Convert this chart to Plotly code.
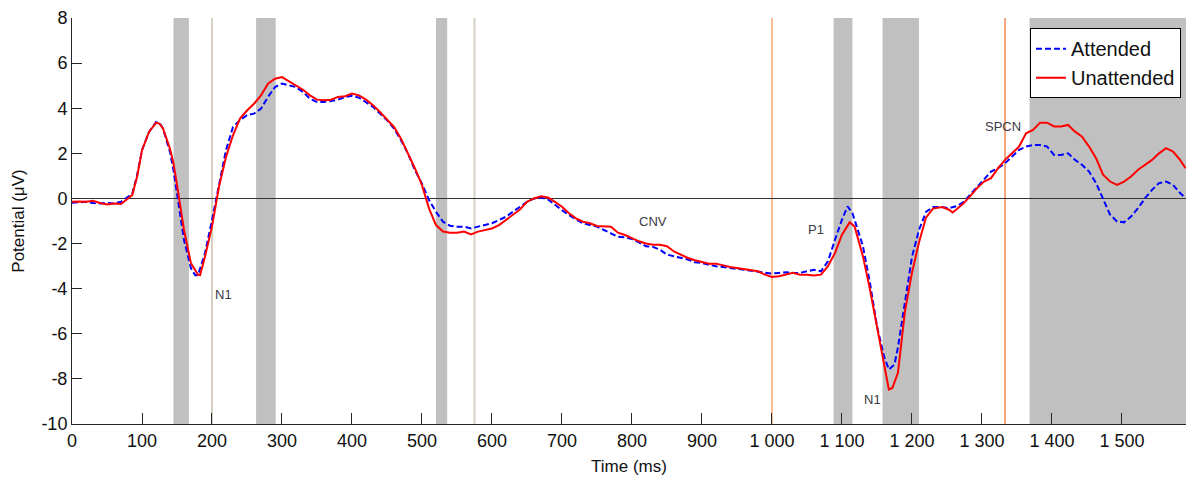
import plotly.graph_objects as go

# ---------------- data ----------------
t_attended = [0, 10, 20, 30, 40, 50, 60, 70, 80, 86, 93, 100, 110, 120, 125, 130, 140, 145, 150, 160,
              170, 176, 180, 190, 200, 210, 220, 230, 240, 250, 260, 270, 280, 290, 300, 310, 320, 330,
              340, 350, 360, 370, 380, 390, 400, 410, 420, 430, 440, 450, 460, 470, 480, 490, 500, 510,
              520, 530, 540, 550, 560, 570, 580, 590, 600, 610, 620, 630, 640, 650, 660, 670, 680, 690,
              700, 710, 720, 730, 740, 750, 760, 770, 780, 790, 800, 810, 820, 830, 840, 850, 860, 870,
              880, 890, 900, 910, 920, 930, 940, 950, 960, 970, 980, 990, 1000, 1010, 1020, 1030, 1040,
              1050, 1060, 1070, 1080, 1090, 1100, 1108, 1115, 1130, 1140, 1150, 1160, 1167, 1175, 1180,
              1190, 1200, 1210, 1220, 1230, 1243, 1253, 1263, 1273, 1283, 1293, 1303, 1313, 1323, 1333,
              1343, 1353, 1363, 1373, 1383, 1393, 1403, 1413, 1423, 1433, 1443, 1453, 1463, 1473, 1483,
              1493, 1503, 1513, 1523, 1533, 1543, 1553, 1563, 1573, 1583, 1591]
v_attended = [-0.19, -0.17, -0.15, -0.2, -0.22, -0.2, -0.22, -0.15, 0.07, 0.2, 1.03, 2.14, 2.95, 3.38,
              3.35, 3.1, 2.06, 1.25, 0.22, -1.84, -3.1, -3.4, -3.4, -2.43, -0.96, 0.66, 2.14, 3.17, 3.47,
              3.69, 3.76, 3.98, 4.5, 4.94, 5.09, 5.01, 4.94, 4.72, 4.42, 4.28, 4.28, 4.32, 4.38, 4.5,
              4.55, 4.47, 4.28, 4.06, 3.76, 3.47, 3.1, 2.58, 1.99, 1.25, 0.66, -0.07, -0.59, -1.03,
              -1.21, -1.25, -1.25, -1.33, -1.25, -1.18, -1.1, -0.96, -0.81, -0.59, -0.37, -0.15, 0.0,
              0.04, -0.04, -0.29, -0.52, -0.74, -0.93, -1.1, -1.18, -1.25, -1.4, -1.55, -1.7, -1.72,
              -1.8, -1.95, -2.12, -2.15, -2.27, -2.49, -2.57, -2.64, -2.71, -2.83, -2.86, -2.94, -3.01,
              -3.04, -3.08, -3.13, -3.16, -3.23, -3.27, -3.3, -3.33, -3.3, -3.27, -3.3, -3.3, -3.23,
              -3.16, -3.23, -2.79, -1.83, -0.94, -0.35, -0.65, -2.12, -3.75, -5.66, -6.99, -7.58,
              -7.36, -6.6, -4.6, -2.6, -1.4, -0.6, -0.38, -0.38, -0.43, -0.35, -0.18, 0.16, 0.5, 0.83,
              1.19, 1.34, 1.56, 1.86, 2.15, 2.3, 2.37, 2.37, 2.3, 1.93, 1.93, 2.0, 1.71, 1.49, 1.19,
              0.68, -0.06, -0.72, -1.02, -1.06, -0.8, -0.43, 0.01, 0.38, 0.68, 0.75, 0.6, 0.24, 0.01]

t_unattended = [0, 10, 20, 30, 40, 50, 60, 70, 80, 86, 93, 100, 110, 120, 125, 130, 140, 145, 150, 160,
                170, 180, 183, 190, 200, 210, 220, 230, 240, 250, 260, 270, 280, 290, 300, 310, 320, 330,
                340, 350, 360, 370, 380, 390, 400, 410, 420, 430, 440, 450, 460, 470, 480, 490, 500, 510,
                520, 530, 540, 550, 560, 570, 580, 590, 600, 610, 620, 630, 640, 650, 660, 670, 680, 690,
                700, 710, 720, 730, 740, 750, 760, 770, 780, 790, 800, 810, 820, 830, 840, 850, 860, 870,
                880, 890, 900, 910, 920, 930, 940, 950, 960, 970, 980, 990, 1000, 1010, 1020, 1030, 1040,
                1050, 1060, 1070, 1080, 1090, 1100, 1111, 1118, 1130, 1140, 1150, 1160, 1167, 1172, 1180,
                1190, 1200, 1210, 1220, 1230, 1243, 1253, 1258, 1263, 1273, 1283, 1293, 1303, 1313, 1323,
                1333, 1343, 1353, 1363, 1373, 1383, 1393, 1403, 1413, 1423, 1433, 1443, 1453, 1463, 1473,
                1483, 1493, 1503, 1513, 1523, 1533, 1543, 1553, 1563, 1573, 1583, 1591]
v_unattended = [-0.15, -0.13, -0.15, -0.1, -0.2, -0.27, -0.22, -0.25, 0.0, 0.15, 0.96, 2.14, 2.95, 3.35,
                3.32, 3.1, 2.2, 1.55, 0.6, -1.4, -2.88, -3.38, -3.4, -2.58, -1.25, 0.52, 1.84, 2.8, 3.54,
                3.9, 4.2, 4.57, 5.09, 5.31, 5.38, 5.2, 5.01, 4.82, 4.57, 4.38, 4.35, 4.38, 4.5, 4.53,
                4.65, 4.57, 4.38, 4.13, 3.83, 3.5, 3.17, 2.65, 1.99, 1.33, 0.59, -0.44, -1.18, -1.47,
                -1.52, -1.52, -1.47, -1.59, -1.47, -1.4, -1.33, -1.18, -0.96, -0.74, -0.49, -0.15, 0.0,
                0.1, 0.04, -0.15, -0.37, -0.66, -0.88, -1.03, -1.1, -1.22, -1.22, -1.25, -1.52, -1.62,
                -1.76, -1.9, -2.0, -2.05, -2.05, -2.12, -2.35, -2.49, -2.64, -2.74, -2.82, -2.89, -2.89,
                -2.98, -3.04, -3.08, -3.13, -3.19, -3.23, -3.38, -3.48, -3.45, -3.38, -3.3, -3.38, -3.38,
                -3.42, -3.38, -3.0, -2.42, -1.61, -1.06, -1.24, -2.57, -4.04, -5.66, -7.43, -8.47, -8.4,
                -7.73, -5.0, -3.3, -1.95, -0.85, -0.45, -0.38, -0.5, -0.62, -0.5, -0.24, 0.09, 0.46, 0.75,
                0.9, 1.34, 1.71, 2.0, 2.3, 2.89, 3.04, 3.36, 3.36, 3.19, 3.19, 3.26, 2.96, 2.74, 2.3,
                1.78, 1.05, 0.75, 0.6, 0.75, 0.97, 1.27, 1.49, 1.71, 2.0, 2.23, 2.08, 1.71, 1.34]

# shaded analysis windows (ms)
win_start = [145, 263, 520, 1088, 1158, 1368]
win_end = [167, 291, 536, 1115, 1210, 1600]
# light marker lines (ms)
marker_gray = [200, 575]
marker_orange = [1000]
marker_salmon = [1333]

# component labels
label_text = ["N1", "CNV", "P1", "N1", "SPCN"]
label_x = [217, 830, 1063, 1143, 1330]
label_y = [-4.27, -1.04, -1.39, -8.9, 3.17]

x_ticks = list(range(0, 1600, 100))
x_ticktext = ["0", "100", "200", "300", "400", "500", "600", "700", "800", "900",
              "1 000", "1 100", "1 200", "1 300", "1 400", "1 500"]
y_ticks = list(range(-10, 9, 2))
y_ticktext = ["-10", "-8", "-6", "-4", "-2", "0", "2", "4", "6", "8"]

FONT = "Liberation Sans, Arial, sans-serif"

fig = go.Figure()
fig.add_trace(go.Scatter(x=t_attended, y=v_attended, mode="lines", name="Attended",
                         line=dict(color="#0000ff", width=2, dash="6px,3px")))
fig.add_trace(go.Scatter(x=t_unattended, y=v_unattended, mode="lines", name="Unattended",
                         line=dict(color="#ff0000", width=2)))

shapes = []
for a, b in zip(win_start, win_end):
    shapes.append(dict(type="rect", xref="x", yref="y", x0=a, x1=b, y0=-10, y1=8,
                       fillcolor="#c0c0c0", line=dict(width=0), layer="below"))
for m in marker_gray:
    shapes.append(dict(type="line", xref="x", yref="y", x0=m, x1=m, y0=-10, y1=8,
                       line=dict(color="#d6d0c4", width=2), layer="below"))
for m in marker_orange:
    shapes.append(dict(type="line", xref="x", yref="y", x0=m, x1=m, y0=-10, y1=8,
                       line=dict(color="#f07a30", width=1), layer="below"))
for m in marker_salmon:
    shapes.append(dict(type="line", xref="x", yref="y", x0=m, x1=m, y0=-10, y1=8,
                       line=dict(color="#f3a47a", width=2), layer="below"))

annotations = [dict(x=x, y=y, text=t, showarrow=False, xref="x", yref="y",
                    font=dict(family=FONT, size=13, color="#3a3a44"))
               for t, x, y in zip(label_text, label_x, label_y)]

fig.update_layout(
    width=1186, height=478,
    margin=dict(l=72, r=0, t=18, b=54, autoexpand=False),
    paper_bgcolor="white", plot_bgcolor="white",
    font=dict(family=FONT, size=18, color="#111111"),
    shapes=shapes, annotations=annotations,
    showlegend=True,
    legend=dict(x=0.9955, y=0.975, xanchor="right", yanchor="top",
                bgcolor="white", bordercolor="#000000", borderwidth=1,
                font=dict(family=FONT, size=20, color="#111111"),
                tracegroupgap=0),
    xaxis=dict(range=[0, 1591.5], tickvals=x_ticks, ticktext=x_ticktext, automargin=False,
               ticks="inside", ticklen=11, tickcolor="#262626", tickwidth=1,
               showline=True, linecolor="#262626", linewidth=1, mirror=False,
               showgrid=False, zeroline=False,
               title=dict(text="Time (ms)", standoff=10, font=dict(size=17))),
    yaxis=dict(range=[-10, 8], tickvals=y_ticks, ticktext=y_ticktext, automargin=False,
               ticks="inside", ticklen=10, tickcolor="#262626", tickwidth=1,
               showline=True, linecolor="#262626", linewidth=1, mirror=False,
               showgrid=False, zeroline=True, zerolinecolor="#333333", zerolinewidth=1,
               title=dict(text="Potential (μV)", standoff=12, font=dict(size=17))),
)

fig.write_html("out.html", config={"displayModeBar": False},
               post_script="document.body.style.margin='0';document.body.style.overflow='hidden';")
